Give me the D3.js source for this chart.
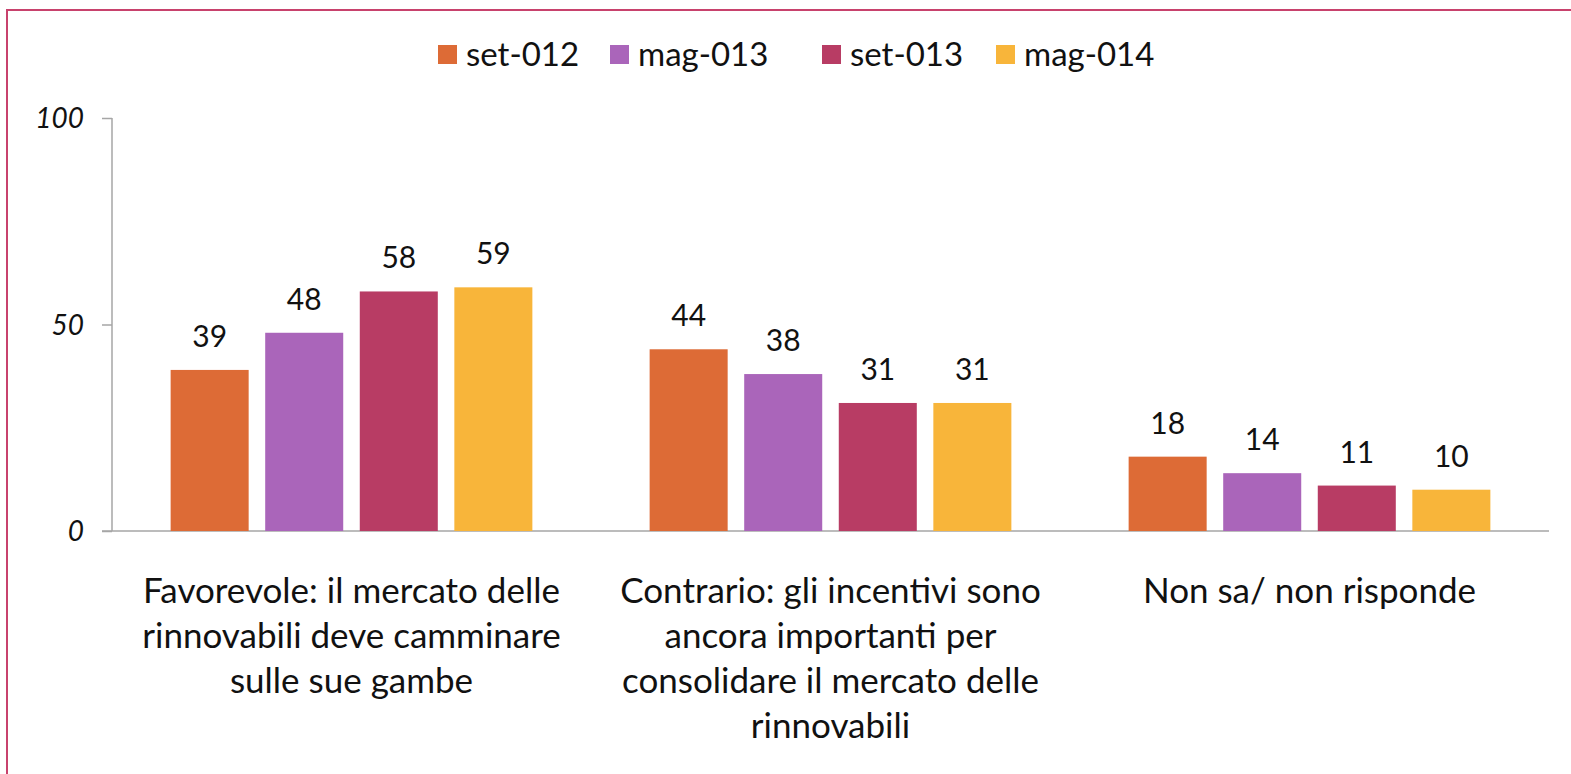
<!DOCTYPE html>
<meta charset="utf-8">
<html>
<head><title>incentivi rinnovabili</title>
    <script src="https://cdn.jsdelivr.net/npm/d3@7/dist/d3.min.js"></script>
    <style>
        body { margin: 0; background: #fff; }
        text { font-family: Lato, "Open Sans", sans-serif; fill: #111; }
        .frame { fill: none; stroke: #c8426d; stroke-width: 2; }
        .axis path, .axis line { stroke: #a6a6a6; stroke-width: 1.5; }
        .tick text { font-style: italic; }
    </style>
</head>
<body>
<div id="chart"></div>
<script>

    var SVGwidth = 1571, SVGheight = 774;

    // data
    var categories = [
        ["Favorevole: il mercato delle", "rinnovabili deve camminare", "sulle sue gambe"],
        ["Contrario: gli incentivi sono", "ancora importanti per", "consolidare il mercato delle", "rinnovabili"],
        ["Non sa/ non risponde"]
    ];
    var series = ["set-012", "mag-013", "set-013", "mag-014"];
    var colors = ["#dd6b36", "#aa65ba", "#b83c64", "#f8b53a"];
    var values = [
        [39, 48, 58, 59],   // set-012, mag-013, set-013, mag-014 per group
        [44, 38, 31, 31],
        [18, 14, 11, 10]
    ];
    var yTicks = [0, 50, 100];

    var plotLeft = 112, plotRight = 1549, plotTop = 118, plotBottom = 531;

    var svg = d3.select("#chart").append("svg")
            .attr("width", SVGwidth)
            .attr("height", SVGheight);

    // outer frame (only top and left show in the original)
    svg.append("path")
            .attr("class", "frame")
            .attr("d", "M7," + (SVGheight + 5) + "V10H" + (SVGwidth + 5));

    var x0 = d3.scaleBand()
            .domain(d3.range(categories.length))
            .range([plotLeft, plotRight]);

    var x1 = d3.scaleBand()
            .domain(series)
            .range([0, x0.bandwidth()])
            .paddingInner(0.175)
            .paddingOuter(0.62);

    var y = d3.scaleLinear()
            .domain([0, 100])
            .range([plotBottom, plotTop]);

    var yAxis = svg.append("g")
            .attr("class", "axis")
            .attr("transform", "translate(" + plotLeft + ",0)")
            .call(d3.axisLeft(y).tickValues(yTicks).tickSize(10).tickPadding(18));
    yAxis.select(".domain").remove();
    yAxis.append("line").attr("x1", 0).attr("x2", 0).attr("y1", plotTop).attr("y2", plotBottom);
    yAxis.selectAll(".tick text").style("font-size", "28px").attr("dy", "0.35em");
    // baseline
    svg.append("line")
            .attr("x1", plotLeft - 10).attr("x2", plotRight)
            .attr("y1", plotBottom).attr("y2", plotBottom)
            .style("stroke", "#a6a6a6").style("stroke-width", 1.5);

    var groups = svg.selectAll(".group")
            .data(values)
            .enter().append("g")
            .attr("class", "group")
            .attr("transform", function(d, i) { return "translate(" + x0(i) + ",0)"; });

    groups.selectAll("rect")
            .data(function(d) { return d; })
            .enter().append("rect")
            .attr("x", function(d, i) { return x1(series[i]); })
            .attr("y", function(d) { return y(d); })
            .attr("width", x1.bandwidth())
            .attr("height", function(d) { return plotBottom - y(d); })
            .attr("fill", function(d, i) { return colors[i]; });

    groups.selectAll(".lbl")
            .data(function(d) { return d; })
            .enter().append("text")
            .attr("class", "lbl")
            .attr("x", function(d, i) { return x1(series[i]) + x1.bandwidth() / 2; })
            .attr("y", function(d) { return y(d) - 23; })
            .attr("text-anchor", "middle")
            .style("font-size", "30px")
            .text(function(d) { return d; });

    // category labels, multi-line
    svg.selectAll(".cat")
            .data(categories)
            .enter().append("text")
            .attr("class", "cat")
            .attr("text-anchor", "middle")
            .style("font-size", "35px")
            .each(function(lines, i) {
                d3.select(this).selectAll("tspan")
                        .data(lines)
                        .enter().append("tspan")
                        .attr("x", x0(i) + x0.bandwidth() / 2)
                        .attr("y", function(d, j) { return 603 + j * 45; })
                        .text(function(d) { return d; });
            });

    // legend
    var legendX = [438, 610, 822, 996];
    var legend = svg.selectAll(".legend")
            .data(series)
            .enter().append("g")
            .attr("class", "legend")
            .attr("transform", function(d, i) { return "translate(" + legendX[i] + ",45)"; });
    legend.append("rect")
            .attr("width", 19).attr("height", 19)
            .attr("fill", function(d, i) { return colors[i]; });
    legend.append("text")
            .attr("x", 28).attr("y", 21)
            .style("font-size", "33px")
            .text(function(d) { return d; });

</script>
</body>
</html>
